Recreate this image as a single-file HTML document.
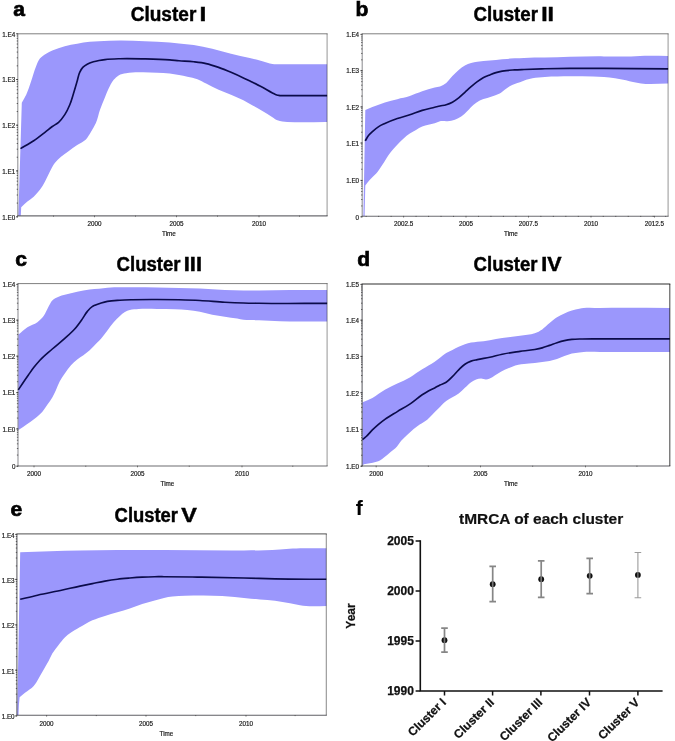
<!DOCTYPE html>
<html lang="en">
<head>
<meta charset="utf-8">
<title>Bayesian skyline plots and tMRCA of each cluster</title>
<style>
html,body{margin:0;padding:0;background:#fff;}
body{width:675px;height:741px;overflow:hidden;}
svg{display:block;filter:blur(0.35px);}
text{font-family:"Liberation Sans",sans-serif;}
.t6{font-size:6.3px;fill:#1a1a1a;stroke:#1a1a1a;stroke-width:0.18px;}
.ttl{font-size:20px;font-weight:bold;fill:#000;stroke:#000;stroke-width:0.45px;}
.ltr{font-size:21px;font-weight:bold;fill:#000;stroke:#000;stroke-width:0.7px;}
.lf{stroke-width:0.1px;}
.fb{font-size:12px;font-weight:bold;fill:#111;stroke:#111;stroke-width:0.25px;}
.ft{font-size:15.2px;font-weight:bold;fill:#111;stroke:#111;stroke-width:0.2px;}
</style>
</head>
<body>
<svg width="675" height="741" viewBox="0 0 675 741">
<rect x="0" y="0" width="675" height="741" fill="#ffffff"/>

<g id="panel-a">
<g transform="translate(0.00,0.00)">
<path d="M21.80,102.80 C23.27,100.10 24.89,97.47 26.20,94.70 C28.27,90.31 29.59,85.59 31.20,81.00 C32.93,76.06 34.11,70.89 36.20,66.10 C37.31,63.55 38.18,60.70 39.90,58.60 C41.53,56.61 43.88,55.09 46.10,53.70 C48.05,52.48 50.19,51.54 52.30,50.60 C56.33,48.80 60.55,47.36 64.80,46.20 C68.86,45.09 73.05,44.43 77.20,43.70 C81.35,42.97 85.51,42.22 89.70,41.80 C92.79,41.49 95.90,41.37 99.00,41.20 C105.96,40.83 112.93,40.63 119.90,40.60 C128.20,40.56 136.50,40.88 144.80,41.20 C153.10,41.52 161.42,41.80 169.70,42.50 C172.80,42.76 175.90,43.09 179.00,43.40 C183.90,43.90 188.83,44.28 193.70,45.00 C199.95,45.92 206.15,47.27 212.30,48.70 C218.58,50.16 224.74,52.14 231.00,53.70 C237.21,55.24 243.49,56.49 249.70,58.00 C253.94,59.03 258.18,60.09 262.40,61.20 C265.74,62.08 268.99,63.46 272.40,63.90 C273.62,64.06 274.87,64.10 276.10,64.20 C293.10,64.20 310.10,64.20 327.10,64.20 L327.10,122.10 C313.83,122.03 300.53,122.87 287.30,121.90 C285.67,121.78 284.01,121.76 282.40,121.50 C280.71,121.23 278.97,120.93 277.40,120.30 C275.61,119.57 274.07,118.23 272.40,117.20 C269.07,115.13 265.78,112.99 262.40,111.00 C259.04,109.02 255.59,107.21 252.20,105.30 C249.26,103.64 246.39,101.85 243.40,100.30 C239.38,98.22 235.18,96.47 231.00,94.70 C226.91,92.97 222.65,91.61 218.60,89.80 C214.34,87.90 210.28,85.58 206.10,83.50 C203.20,82.06 200.42,80.32 197.40,79.20 C194.20,78.01 190.75,77.45 187.40,76.70 C184.61,76.08 181.81,75.50 179.00,75.00 C175.91,74.45 172.81,73.96 169.70,73.60 C165.55,73.12 161.37,72.92 157.20,72.70 C151.01,72.38 144.79,72.06 138.60,72.30 C134.43,72.46 130.18,72.48 126.10,73.30 C123.57,73.81 120.79,74.14 118.60,75.40 C116.75,76.47 115.10,78.14 113.70,79.80 C112.15,81.63 111.06,83.88 109.90,86.00 C107.96,89.57 106.58,93.44 105.00,97.20 C103.26,101.34 101.50,105.47 100.00,109.70 C98.45,114.07 97.78,118.78 95.90,123.00 C94.51,126.12 92.70,129.08 90.90,132.00 C89.34,134.53 87.95,137.33 85.90,139.40 C83.52,141.80 80.06,143.07 77.20,145.00 C74.25,147.00 71.38,149.10 68.50,151.20 C65.98,153.04 63.34,154.75 61.00,156.80 C58.79,158.74 56.59,160.79 54.80,163.10 C52.77,165.73 51.38,168.85 49.80,171.80 C48.06,175.04 46.69,178.49 44.90,181.70 C43.35,184.47 41.80,187.27 39.90,189.80 C38.05,192.26 35.97,194.62 33.70,196.70 C31.75,198.49 29.44,199.89 27.40,201.60 C25.27,203.39 23.27,205.33 21.20,207.20 C21.07,209.97 20.93,212.73 20.80,215.50 C20.00,215.50 19.20,215.50 18.40,215.50 Z" fill="#9b97fc" stroke="none"/>
<path d="M20.50,148.60 C24.90,145.97 29.46,143.56 33.70,140.70 C37.99,137.80 41.99,134.46 46.10,131.30 C48.17,129.71 50.18,128.02 52.30,126.50 C54.35,125.03 56.72,123.95 58.60,122.30 C61.05,120.15 63.01,117.34 64.80,114.60 C66.81,111.52 68.38,108.10 69.80,104.70 C71.31,101.08 72.32,97.25 73.50,93.50 C74.80,89.35 75.99,85.17 77.20,81.00 C78.04,78.10 78.39,74.99 79.70,72.30 C80.54,70.58 81.49,68.78 82.80,67.40 C84.03,66.11 85.63,65.08 87.20,64.20 C89.12,63.12 91.28,62.44 93.40,61.80 C95.23,61.25 97.12,60.86 99.00,60.50 C100.98,60.12 102.99,59.85 105.00,59.60 C109.93,58.99 114.93,58.87 119.90,58.70 C128.19,58.41 136.50,58.70 144.80,58.90 C153.10,59.10 161.42,59.29 169.70,59.90 C172.80,60.13 175.90,60.45 179.00,60.70 C183.90,61.10 188.82,61.25 193.70,61.80 C197.85,62.27 202.03,62.70 206.10,63.60 C210.34,64.54 214.49,65.97 218.60,67.40 C222.79,68.86 226.91,70.57 231.00,72.30 C235.18,74.07 239.30,75.96 243.40,77.90 C245.61,78.95 247.80,80.02 250.00,81.10 C254.15,83.13 258.32,85.13 262.40,87.30 C265.77,89.10 268.99,91.19 272.40,92.90 C273.85,93.63 275.26,94.54 276.80,95.00 C277.80,95.30 278.87,95.40 279.90,95.60 C295.63,95.60 311.37,95.60 327.10,95.60" fill="none" stroke="#0b0b4a" stroke-width="1.65" stroke-linejoin="round"/>
</g>
<path d="M17.30,33.80 H327.60" fill="none" stroke="#000" stroke-opacity="0.50" stroke-width="1.00"/>
<path d="M327.10,33.80 V215.90" fill="none" stroke="#000" stroke-opacity="0.38" stroke-width="1.1"/>
<path d="M17.80,33.80 V215.90" fill="none" stroke="#101018" stroke-opacity="0.45" stroke-width="1.1"/>
<path d="M17.30,215.90 H327.60" fill="none" stroke="#101018" stroke-opacity="0.62" stroke-width="1.1"/>
<path d="M18.00,79.60 h-1.3 M18.00,65.84 h-1.3 M18.00,57.80 h-1.3 M18.00,52.09 h-1.3 M18.00,47.66 h-1.3 M18.00,44.04 h-1.3 M18.00,40.98 h-1.3 M18.00,38.33 h-1.3 M18.00,35.99 h-1.3 M18.00,125.30 h-1.3 M18.00,111.54 h-1.3 M18.00,103.50 h-1.3 M18.00,97.79 h-1.3 M18.00,93.36 h-1.3 M18.00,89.74 h-1.3 M18.00,86.68 h-1.3 M18.00,84.03 h-1.3 M18.00,81.69 h-1.3 M18.00,171.00 h-1.3 M18.00,157.24 h-1.3 M18.00,149.20 h-1.3 M18.00,143.49 h-1.3 M18.00,139.06 h-1.3 M18.00,135.44 h-1.3 M18.00,132.38 h-1.3 M18.00,129.73 h-1.3 M18.00,127.39 h-1.3 M18.00,216.90 h-1.3 M18.00,203.08 h-1.3 M18.00,195.00 h-1.3 M18.00,189.27 h-1.3 M18.00,184.82 h-1.3 M18.00,181.18 h-1.3 M18.00,178.11 h-1.3 M18.00,175.45 h-1.3 M18.00,173.10 h-1.3" stroke="#333" stroke-width="0.7" fill="none"/>
<path d="M18.00,33.80 h-2.0 M18.00,79.50 h-2.0 M18.00,125.20 h-2.0 M18.00,170.90 h-2.0 M18.00,216.80 h-2.0" stroke="#333" stroke-width="0.8" fill="none"/>
<path d="M94.50,215.60 v1.6 M176.50,215.60 v1.6 M259.00,215.60 v1.6 M53.50,215.60 v1.1 M135.50,215.60 v1.1 M217.50,215.60 v1.1 M299.50,215.60 v1.1" stroke="#444" stroke-width="0.7" fill="none"/>
<text class="t6" x="15.20" y="36.60" text-anchor="end">1.E4</text>
<text class="t6" x="15.20" y="82.30" text-anchor="end">1.E3</text>
<text class="t6" x="15.20" y="128.00" text-anchor="end">1.E2</text>
<text class="t6" x="15.20" y="173.70" text-anchor="end">1.E1</text>
<text class="t6" x="15.20" y="219.60" text-anchor="end">1.E0</text>
<text class="t6" x="94.50" y="226.00" text-anchor="middle">2000</text>
<text class="t6" x="176.50" y="226.00" text-anchor="middle">2005</text>
<text class="t6" x="259.00" y="226.00" text-anchor="middle">2010</text>
<text class="t6" x="169.00" y="236.00" text-anchor="middle">Time</text>
</g>
<g id="panel-b">
<g transform="translate(0.00,0.00)">
<path d="M365.30,110.00 C367.67,109.03 370.02,108.04 372.40,107.10 C376.54,105.46 380.66,103.73 384.90,102.40 C388.97,101.12 393.16,100.25 397.30,99.20 C401.46,98.15 405.76,97.51 409.80,96.10 C411.90,95.37 413.93,94.42 416.00,93.60 C418.06,92.79 420.12,91.95 422.20,91.20 C426.30,89.73 430.44,88.29 434.70,87.40 C436.45,87.04 438.32,87.05 440.00,86.50 C442.22,85.77 444.34,84.43 446.20,83.00 C448.62,81.14 450.26,78.33 452.40,76.10 C454.44,73.97 456.44,71.77 458.70,69.90 C460.65,68.29 462.68,66.69 464.90,65.50 C466.85,64.45 468.97,63.62 471.10,63.00 C473.11,62.41 475.22,62.13 477.30,61.80 C481.43,61.14 485.64,61.02 489.80,60.60 C493.94,60.18 498.06,59.68 502.20,59.30 C506.36,58.92 510.53,58.55 514.70,58.30 C517.80,58.12 520.90,58.01 524.00,57.90 C530.96,57.66 537.93,57.76 544.90,57.60 C553.20,57.41 561.50,57.00 569.80,56.80 C581.20,56.53 592.60,56.28 604.00,56.40 C607.67,56.44 611.33,56.58 615.00,56.60 C620.33,56.63 625.67,56.58 631.00,56.40 C634.00,56.30 637.00,56.10 640.00,56.00 C649.36,55.69 658.73,56.00 668.10,56.00 L668.10,83.60 C659.07,83.57 649.91,84.79 641.00,83.50 C638.32,83.11 635.65,82.59 633.00,82.00 C630.65,81.47 628.35,80.73 626.00,80.20 C622.37,79.37 618.69,78.73 615.00,78.20 C611.35,77.67 607.67,77.32 604.00,77.00 C592.65,76.01 581.20,76.21 569.80,76.30 C561.50,76.36 553.17,76.35 544.90,77.00 C540.73,77.33 536.50,77.50 532.40,78.30 C530.32,78.71 528.22,79.16 526.20,79.80 C524.08,80.48 522.10,81.55 520.00,82.30 C518.25,82.92 516.43,83.33 514.70,84.00 C512.99,84.66 511.29,85.40 509.70,86.30 C507.94,87.30 506.35,88.61 504.70,89.80 C503.02,91.01 501.51,92.53 499.70,93.50 C498.17,94.32 496.44,94.80 494.80,95.40 C492.33,96.31 489.80,97.07 487.30,97.90 C484.80,98.73 482.13,99.22 479.80,100.40 C477.58,101.52 475.53,103.10 473.60,104.70 C471.34,106.57 469.53,108.96 467.40,111.00 C465.39,112.92 463.50,115.08 461.20,116.60 C459.27,117.88 457.09,118.94 454.90,119.70 C452.54,120.52 449.99,120.95 447.50,121.20 C445.02,121.45 442.40,120.68 440.00,121.20 C438.18,121.60 436.51,122.72 434.70,123.30 C432.65,123.96 430.49,124.25 428.40,124.80 C426.32,125.35 424.19,125.80 422.20,126.60 C420.04,127.47 418.05,128.76 416.00,129.90 C413.91,131.06 411.78,132.17 409.80,133.50 C407.62,134.97 405.57,136.66 403.60,138.40 C401.38,140.36 399.35,142.55 397.30,144.70 C396.05,146.01 394.80,147.33 393.60,148.70 C391.85,150.70 390.16,152.76 388.60,154.90 C386.31,158.04 384.56,161.56 382.40,164.80 C380.41,167.79 378.54,170.90 376.20,173.60 C374.28,175.82 371.87,177.62 369.90,179.80 C368.28,181.59 366.83,183.53 365.30,185.40 C365.07,195.60 364.83,205.80 364.60,216.00 C364.20,216.00 363.80,216.00 363.40,216.00 Z" fill="#9b97fc" stroke="none"/>
<path d="M365.20,140.90 C366.37,139.03 367.32,136.99 368.70,135.30 C369.80,133.96 371.11,132.77 372.40,131.60 C374.38,129.79 376.44,128.02 378.70,126.60 C380.65,125.38 382.81,124.48 384.90,123.50 C388.94,121.62 393.10,119.96 397.30,118.50 C401.40,117.07 405.67,116.14 409.80,114.80 C413.97,113.44 418.00,111.66 422.20,110.40 C426.31,109.17 430.53,108.33 434.70,107.30 C436.47,106.87 438.23,106.41 440.00,106.00 C442.06,105.53 444.19,105.31 446.20,104.70 C448.33,104.06 450.44,103.23 452.40,102.20 C454.64,101.02 456.70,99.46 458.70,97.90 C460.89,96.19 462.83,94.17 464.90,92.30 C466.97,90.43 468.98,88.51 471.10,86.70 C473.12,84.98 475.15,83.25 477.30,81.70 C479.33,80.23 481.40,78.77 483.60,77.60 C485.58,76.54 487.71,75.74 489.80,74.90 C491.84,74.08 493.89,73.24 496.00,72.60 C498.03,71.98 500.12,71.50 502.20,71.10 C506.30,70.31 510.52,70.17 514.70,69.90 C517.80,69.70 520.90,69.62 524.00,69.50 C530.96,69.22 537.93,68.98 544.90,68.80 C553.20,68.59 561.50,68.48 569.80,68.40 C581.20,68.29 592.60,68.37 604.00,68.40 C625.37,68.46 646.73,68.73 668.10,68.90" fill="none" stroke="#0b0b4a" stroke-width="1.65" stroke-linejoin="round"/>
</g>
<path d="M361.70,33.80 H668.60" fill="none" stroke="#000" stroke-opacity="0.50" stroke-width="1.00"/>
<path d="M668.10,33.80 V216.20" fill="none" stroke="#000" stroke-opacity="0.38" stroke-width="1.1"/>
<path d="M362.20,33.80 V216.20" fill="none" stroke="#101018" stroke-opacity="0.45" stroke-width="1.1"/>
<path d="M361.70,216.20 H668.60" fill="none" stroke="#101018" stroke-opacity="0.62" stroke-width="1.1"/>
<path d="M362.40,70.75 h-1.3 M362.40,59.84 h-1.3 M362.40,53.45 h-1.3 M362.40,48.93 h-1.3 M362.40,45.41 h-1.3 M362.40,42.54 h-1.3 M362.40,40.12 h-1.3 M362.40,38.01 h-1.3 M362.40,36.16 h-1.3 M362.40,107.00 h-1.3 M362.40,96.09 h-1.3 M362.40,89.70 h-1.3 M362.40,85.18 h-1.3 M362.40,81.66 h-1.3 M362.40,78.79 h-1.3 M362.40,76.37 h-1.3 M362.40,74.26 h-1.3 M362.40,72.41 h-1.3 M362.40,143.10 h-1.3 M362.40,132.23 h-1.3 M362.40,125.88 h-1.3 M362.40,121.37 h-1.3 M362.40,117.87 h-1.3 M362.40,115.01 h-1.3 M362.40,112.59 h-1.3 M362.40,110.50 h-1.3 M362.40,108.65 h-1.3 M362.40,180.50 h-1.3 M362.40,169.24 h-1.3 M362.40,162.66 h-1.3 M362.40,157.98 h-1.3 M362.40,154.36 h-1.3 M362.40,151.40 h-1.3 M362.40,148.89 h-1.3 M362.40,146.72 h-1.3 M362.40,144.81 h-1.3 M362.40,216.90 h-1.3 M362.40,205.94 h-1.3 M362.40,199.53 h-1.3 M362.40,194.99 h-1.3 M362.40,191.46 h-1.3 M362.40,188.58 h-1.3 M362.40,186.14 h-1.3 M362.40,184.03 h-1.3 M362.40,182.17 h-1.3" stroke="#333" stroke-width="0.7" fill="none"/>
<path d="M362.40,34.40 h-2.0 M362.40,70.65 h-2.0 M362.40,106.90 h-2.0 M362.40,143.00 h-2.0 M362.40,180.40 h-2.0 M362.40,216.80 h-2.0" stroke="#333" stroke-width="0.8" fill="none"/>
<path d="M403.60,215.90 v1.6 M466.00,215.90 v1.6 M528.50,215.90 v1.6 M591.00,215.90 v1.6 M654.50,215.90 v1.6 M366.16,215.90 v1.1 M378.64,215.90 v1.1 M391.12,215.90 v1.1 M416.08,215.90 v1.1 M428.56,215.90 v1.1 M441.04,215.90 v1.1 M453.52,215.90 v1.1 M478.48,215.90 v1.1 M490.96,215.90 v1.1 M503.44,215.90 v1.1 M515.92,215.90 v1.1 M540.88,215.90 v1.1 M553.36,215.90 v1.1 M565.84,215.90 v1.1 M578.32,215.90 v1.1 M603.28,215.90 v1.1 M615.76,215.90 v1.1 M628.24,215.90 v1.1 M640.72,215.90 v1.1 M653.20,215.90 v1.1 M665.68,215.90 v1.1" stroke="#444" stroke-width="0.7" fill="none"/>
<text class="t6" x="359.10" y="37.20" text-anchor="end">1.E4</text>
<text class="t6" x="359.10" y="73.45" text-anchor="end">1.E3</text>
<text class="t6" x="359.10" y="109.70" text-anchor="end">1.E2</text>
<text class="t6" x="359.10" y="145.80" text-anchor="end">1.E1</text>
<text class="t6" x="359.10" y="183.20" text-anchor="end">1.E0</text>
<text class="t6" x="359.10" y="219.60" text-anchor="end">0</text>
<text class="t6" x="403.60" y="226.20" text-anchor="middle">2002.5</text>
<text class="t6" x="466.00" y="226.20" text-anchor="middle">2005</text>
<text class="t6" x="528.50" y="226.20" text-anchor="middle">2007.5</text>
<text class="t6" x="591.00" y="226.20" text-anchor="middle">2010</text>
<text class="t6" x="654.50" y="226.20" text-anchor="middle">2012.5</text>
<text class="t6" x="511.00" y="235.80" text-anchor="middle">Time</text>
</g>
<g id="panel-c">
<g transform="translate(0.00,0.00)">
<path d="M18.50,334.60 C21.47,332.13 24.19,329.29 27.40,327.20 C30.50,325.18 34.46,324.41 37.40,322.20 C39.71,320.47 41.85,318.30 43.60,316.00 C45.73,313.21 46.84,309.68 48.60,306.60 C49.79,304.51 50.65,302.05 52.30,300.40 C53.97,298.74 56.38,297.66 58.60,296.70 C60.57,295.85 62.72,295.40 64.80,294.80 C68.89,293.62 73.04,292.59 77.20,291.70 C81.34,290.82 85.50,289.99 89.70,289.50 C92.78,289.14 95.91,289.12 99.00,288.80 C101.81,288.51 104.59,287.99 107.40,287.70 C115.65,286.85 124.00,287.23 132.30,287.20 C140.60,287.17 148.90,287.35 157.20,287.50 C164.47,287.63 171.73,287.83 179.00,288.00 C185.97,288.16 192.94,288.22 199.90,288.50 C208.21,288.84 216.49,289.66 224.80,290.00 C231.00,290.25 237.20,290.42 243.40,290.50 C248.60,290.56 253.80,290.53 259.00,290.50 C269.33,290.44 279.67,290.10 290.00,290.00 C302.37,289.88 314.73,289.93 327.10,289.90 L327.10,321.40 C311.40,321.33 295.69,321.69 280.00,321.20 C273.00,320.98 266.00,320.50 259.00,320.30 C255.90,320.21 252.80,320.21 249.70,320.10 C247.60,320.02 245.48,320.05 243.40,319.80 C241.32,319.55 239.27,318.97 237.20,318.60 C233.09,317.86 228.93,317.33 224.80,316.70 C220.63,316.06 216.43,315.63 212.30,314.80 C208.13,313.96 204.08,312.52 199.90,311.70 C195.77,310.89 191.58,310.32 187.40,309.90 C183.28,309.49 179.14,309.37 175.00,309.20 C169.07,308.96 163.13,308.94 157.20,308.90 C151.00,308.86 144.77,308.47 138.60,309.00 C135.66,309.25 132.61,309.26 129.80,310.10 C128.12,310.60 126.42,311.24 124.90,312.10 C123.06,313.14 121.50,314.69 119.90,316.10 C117.71,318.03 115.64,320.12 113.70,322.30 C111.43,324.85 109.49,327.69 107.40,330.40 C105.32,333.09 103.46,335.97 101.20,338.50 C99.87,339.99 98.40,341.37 97.00,342.80 C94.57,345.27 92.29,347.91 89.70,350.20 C87.69,351.97 85.55,353.60 83.40,355.20 C81.38,356.70 79.16,357.93 77.20,359.50 C75.00,361.26 72.90,363.22 71.00,365.30 C68.69,367.82 66.76,370.69 64.80,373.50 C63.05,376.01 61.25,378.52 59.80,381.20 C58.30,383.97 57.34,387.03 56.00,389.90 C54.82,392.43 53.69,394.99 52.30,397.40 C50.81,399.97 49.00,402.35 47.30,404.80 C45.69,407.12 44.24,409.58 42.40,411.70 C40.20,414.23 37.52,416.38 34.90,418.50 C32.13,420.73 29.10,422.64 26.20,424.70 C24.13,426.17 22.04,427.59 20.00,429.10 C19.46,429.50 18.93,429.90 18.40,430.30 Z" fill="#9b97fc" stroke="none"/>
<path d="M18.30,389.90 C19.67,387.83 21.02,385.76 22.40,383.70 C24.37,380.78 26.37,377.88 28.40,375.00 C30.15,372.52 31.85,370.00 33.70,367.60 C35.67,365.06 37.72,362.55 39.90,360.20 C43.68,356.13 48.11,352.67 52.30,349.00 C56.41,345.40 60.75,342.06 64.80,338.40 C68.18,335.35 71.69,332.39 74.70,329.00 C77.44,325.91 79.82,322.48 82.20,319.10 C83.93,316.64 85.28,313.89 87.20,311.60 C88.71,309.80 90.23,307.84 92.20,306.60 C93.07,306.05 94.05,305.63 95.00,305.20 C97.00,304.30 99.10,303.64 101.20,303.00 C103.24,302.38 105.31,301.82 107.40,301.40 C111.49,300.57 115.73,300.48 119.90,300.20 C124.03,299.92 128.17,299.82 132.30,299.70 C140.60,299.45 148.90,299.47 157.20,299.50 C164.47,299.53 171.74,299.63 179.00,299.80 C185.97,299.97 192.94,300.16 199.90,300.50 C208.21,300.91 216.49,301.75 224.80,302.20 C231.00,302.53 237.20,302.81 243.40,303.00 C248.60,303.16 253.80,303.22 259.00,303.30 C281.70,303.66 304.40,303.37 327.10,303.40" fill="none" stroke="#0b0b4a" stroke-width="1.65" stroke-linejoin="round"/>
</g>
<path d="M17.50,283.60 H327.60" fill="none" stroke="#000" stroke-opacity="0.50" stroke-width="1.00"/>
<path d="M327.10,283.60 V466.00" fill="none" stroke="#000" stroke-opacity="0.38" stroke-width="1.1"/>
<path d="M18.00,283.60 V466.00" fill="none" stroke="#101018" stroke-opacity="0.45" stroke-width="1.1"/>
<path d="M17.50,466.00 H327.60" fill="none" stroke="#101018" stroke-opacity="0.62" stroke-width="1.1"/>
<path d="M18.20,320.25 h-1.3 M18.20,309.49 h-1.3 M18.20,303.19 h-1.3 M18.20,298.73 h-1.3 M18.20,295.26 h-1.3 M18.20,292.43 h-1.3 M18.20,290.04 h-1.3 M18.20,287.96 h-1.3 M18.20,286.14 h-1.3 M18.20,356.25 h-1.3 M18.20,345.41 h-1.3 M18.20,339.07 h-1.3 M18.20,334.58 h-1.3 M18.20,331.09 h-1.3 M18.20,328.24 h-1.3 M18.20,325.83 h-1.3 M18.20,323.74 h-1.3 M18.20,321.90 h-1.3 M18.20,392.70 h-1.3 M18.20,381.73 h-1.3 M18.20,375.31 h-1.3 M18.20,370.75 h-1.3 M18.20,367.22 h-1.3 M18.20,364.34 h-1.3 M18.20,361.90 h-1.3 M18.20,359.78 h-1.3 M18.20,357.92 h-1.3 M18.20,429.00 h-1.3 M18.20,418.07 h-1.3 M18.20,411.68 h-1.3 M18.20,407.15 h-1.3 M18.20,403.63 h-1.3 M18.20,400.75 h-1.3 M18.20,398.32 h-1.3 M18.20,396.22 h-1.3 M18.20,394.36 h-1.3 M18.20,466.30 h-1.3 M18.20,455.07 h-1.3 M18.20,448.50 h-1.3 M18.20,443.84 h-1.3 M18.20,440.23 h-1.3 M18.20,437.27 h-1.3 M18.20,434.78 h-1.3 M18.20,432.61 h-1.3 M18.20,430.71 h-1.3" stroke="#333" stroke-width="0.7" fill="none"/>
<path d="M18.20,284.40 h-2.0 M18.20,320.15 h-2.0 M18.20,356.15 h-2.0 M18.20,392.60 h-2.0 M18.20,428.90 h-2.0 M18.20,466.20 h-2.0" stroke="#333" stroke-width="0.8" fill="none"/>
<path d="M34.00,465.70 v1.6 M137.50,465.70 v1.6 M242.00,465.70 v1.6 M85.75,465.70 v1.1 M189.25,465.70 v1.1 M292.75,465.70 v1.1" stroke="#444" stroke-width="0.7" fill="none"/>
<text class="t6" x="15.40" y="287.20" text-anchor="end">1.E4</text>
<text class="t6" x="15.40" y="322.95" text-anchor="end">1.E3</text>
<text class="t6" x="15.40" y="358.95" text-anchor="end">1.E2</text>
<text class="t6" x="15.40" y="395.40" text-anchor="end">1.E1</text>
<text class="t6" x="15.40" y="431.70" text-anchor="end">1.E0</text>
<text class="t6" x="15.40" y="469.00" text-anchor="end">0</text>
<text class="t6" x="34.00" y="475.80" text-anchor="middle">2000</text>
<text class="t6" x="137.50" y="475.80" text-anchor="middle">2005</text>
<text class="t6" x="242.00" y="475.80" text-anchor="middle">2010</text>
<text class="t6" x="167.50" y="485.80" text-anchor="middle">Time</text>
</g>
<g id="panel-d">
<g transform="translate(0.00,0.00)">
<path d="M362.60,402.30 C365.87,400.83 369.24,399.57 372.40,397.90 C376.78,395.59 380.59,392.25 384.90,389.80 C388.91,387.52 393.16,385.66 397.30,383.60 C401.46,381.53 405.77,379.70 409.80,377.40 C414.08,374.96 418.02,371.92 422.20,369.30 C426.32,366.72 430.73,364.59 434.70,361.80 C436.51,360.53 438.24,359.14 440.00,357.80 C442.08,356.21 443.99,354.37 446.20,353.00 C448.15,351.79 450.33,350.93 452.40,349.90 C454.50,348.86 456.56,347.75 458.70,346.80 C460.73,345.89 462.79,345.01 464.90,344.30 C466.93,343.62 469.01,343.06 471.10,342.60 C475.19,341.71 479.46,341.82 483.60,341.20 C487.76,340.58 491.85,339.57 496.00,338.90 C500.12,338.24 504.26,337.75 508.40,337.20 C512.26,336.69 516.14,336.21 520.00,335.70 C522.47,335.37 524.95,335.11 527.40,334.70 C529.88,334.28 532.44,334.01 534.80,333.20 C537.40,332.31 539.90,330.91 542.20,329.40 C544.89,327.63 547.10,325.16 549.60,323.10 C552.03,321.09 554.34,318.87 557.00,317.20 C559.32,315.74 561.88,314.61 564.40,313.50 C566.85,312.42 569.35,311.40 571.90,310.60 C574.32,309.85 576.81,309.31 579.30,308.80 C580.76,308.50 582.23,308.21 583.70,308.00 C589.06,307.23 594.57,307.93 600.00,307.90 C623.27,307.78 646.53,307.90 669.80,307.90 L669.80,352.00 C646.53,352.00 623.27,352.00 600.00,352.00 C594.57,352.00 589.11,351.52 583.70,352.00 C582.23,352.13 580.77,352.32 579.30,352.50 C576.83,352.80 574.32,352.95 571.90,353.50 C569.34,354.09 566.87,355.09 564.40,356.00 C561.90,356.92 559.52,358.17 557.00,359.00 C554.59,359.79 552.09,360.40 549.60,360.90 C547.16,361.39 544.67,361.63 542.20,362.00 C539.73,362.37 537.28,362.82 534.80,363.10 C532.84,363.32 530.86,363.41 528.90,363.60 C527.27,363.75 525.63,363.92 524.00,364.10 C522.13,364.31 520.24,364.42 518.40,364.80 C516.29,365.24 514.24,365.98 512.20,366.70 C509.65,367.60 507.13,368.62 504.70,369.80 C502.12,371.06 499.66,372.60 497.20,374.10 C495.55,375.10 494.02,376.34 492.30,377.20 C490.31,378.20 488.15,379.43 486.00,379.50 C484.40,379.55 482.73,378.51 481.10,378.50 C479.43,378.49 477.69,378.94 476.10,379.50 C474.33,380.12 472.66,381.15 471.10,382.20 C468.80,383.74 466.97,385.93 464.90,387.80 C462.83,389.67 460.94,391.76 458.70,393.40 C456.73,394.84 454.50,395.94 452.40,397.20 C450.34,398.44 448.11,399.45 446.20,400.90 C444.70,402.04 443.35,403.38 442.00,404.70 C440.75,405.92 439.61,407.25 438.40,408.50 C436.37,410.60 434.27,412.63 432.20,414.70 C430.53,416.37 429.00,418.20 427.20,419.70 C424.92,421.60 422.15,422.90 419.70,424.60 C418.11,425.70 416.52,426.81 415.00,428.00 C414.08,428.71 413.18,429.45 412.30,430.20 C410.22,431.97 408.28,433.91 406.30,435.80 C404.58,437.45 402.76,439.01 401.20,440.80 C399.59,442.64 398.46,444.91 396.80,446.70 C394.97,448.68 392.67,450.24 390.60,452.00 C388.51,453.77 386.49,455.65 384.30,457.30 C382.87,458.38 381.47,459.57 379.90,460.40 C377.73,461.55 375.21,462.09 372.80,462.70 C369.89,463.43 366.87,463.70 363.90,464.20 C363.43,464.63 362.97,465.07 362.50,465.50 Z" fill="#9b97fc" stroke="none"/>
<path d="M362.50,439.60 C363.73,438.57 365.01,437.58 366.20,436.50 C368.43,434.47 370.25,432.02 372.40,429.90 C374.36,427.96 376.40,426.08 378.50,424.30 C380.56,422.55 382.71,420.88 384.90,419.30 C388.84,416.46 393.15,414.13 397.30,411.60 C401.45,409.07 405.77,406.80 409.80,404.10 C414.09,401.23 417.88,397.63 422.20,394.80 C424.23,393.47 426.28,392.17 428.40,391.00 C430.45,389.87 432.63,388.98 434.70,387.90 C436.49,386.97 438.20,385.90 440.00,385.00 C442.03,383.98 444.31,383.40 446.20,382.20 C448.53,380.73 450.42,378.55 452.40,376.60 C454.60,374.44 456.50,371.96 458.70,369.80 C460.68,367.85 462.60,365.73 464.90,364.20 C466.81,362.93 468.94,361.88 471.10,361.10 C473.09,360.38 475.23,360.06 477.30,359.60 C481.43,358.68 485.66,358.20 489.80,357.30 C493.96,356.40 498.03,355.07 502.20,354.20 C506.33,353.34 510.52,352.70 514.70,352.10 C516.46,351.85 518.23,351.63 520.00,351.40 C524.93,350.75 529.91,350.41 534.80,349.50 C537.28,349.04 539.77,348.57 542.20,347.90 C544.71,347.21 547.14,346.26 549.60,345.40 C552.08,344.53 554.50,343.51 557.00,342.70 C559.44,341.91 561.90,341.15 564.40,340.60 C566.87,340.06 569.39,339.67 571.90,339.40 C575.31,339.03 578.77,339.09 582.20,339.00 C588.13,338.84 594.07,338.93 600.00,338.90 C623.27,338.80 646.53,338.90 669.80,338.90" fill="none" stroke="#0b0b4a" stroke-width="1.65" stroke-linejoin="round"/>
</g>
<path d="M361.60,284.00 H670.30" fill="none" stroke="#000" stroke-opacity="0.55" stroke-width="1.30"/>
<path d="M669.80,284.00 V466.00" fill="none" stroke="#000" stroke-opacity="0.68" stroke-width="1.1"/>
<path d="M362.10,284.00 V466.00" fill="none" stroke="#101018" stroke-opacity="0.65" stroke-width="1.1"/>
<path d="M361.60,466.00 H670.30" fill="none" stroke="#101018" stroke-opacity="0.67" stroke-width="1.1"/>
<path d="M362.30,320.25 h-1.3 M362.30,309.49 h-1.3 M362.30,303.19 h-1.3 M362.30,298.73 h-1.3 M362.30,295.26 h-1.3 M362.30,292.43 h-1.3 M362.30,290.04 h-1.3 M362.30,287.96 h-1.3 M362.30,286.14 h-1.3 M362.30,356.50 h-1.3 M362.30,345.59 h-1.3 M362.30,339.20 h-1.3 M362.30,334.68 h-1.3 M362.30,331.16 h-1.3 M362.30,328.29 h-1.3 M362.30,325.87 h-1.3 M362.30,323.76 h-1.3 M362.30,321.91 h-1.3 M362.30,392.80 h-1.3 M362.30,381.87 h-1.3 M362.30,375.48 h-1.3 M362.30,370.95 h-1.3 M362.30,367.43 h-1.3 M362.30,364.55 h-1.3 M362.30,362.12 h-1.3 M362.30,360.02 h-1.3 M362.30,358.16 h-1.3 M362.30,429.50 h-1.3 M362.30,418.45 h-1.3 M362.30,411.99 h-1.3 M362.30,407.40 h-1.3 M362.30,403.85 h-1.3 M362.30,400.94 h-1.3 M362.30,398.48 h-1.3 M362.30,396.36 h-1.3 M362.30,394.48 h-1.3 M362.30,466.30 h-1.3 M362.30,455.22 h-1.3 M362.30,448.74 h-1.3 M362.30,444.14 h-1.3 M362.30,440.58 h-1.3 M362.30,437.66 h-1.3 M362.30,435.20 h-1.3 M362.30,433.07 h-1.3 M362.30,431.18 h-1.3" stroke="#333" stroke-width="0.7" fill="none"/>
<path d="M362.30,284.40 h-2.0 M362.30,320.15 h-2.0 M362.30,356.40 h-2.0 M362.30,392.70 h-2.0 M362.30,429.40 h-2.0 M362.30,466.20 h-2.0" stroke="#333" stroke-width="0.8" fill="none"/>
<path d="M376.20,465.70 v1.6 M480.50,465.70 v1.6 M585.50,465.70 v1.6 M428.35,465.70 v1.1 M532.65,465.70 v1.1 M636.95,465.70 v1.1" stroke="#444" stroke-width="0.7" fill="none"/>
<text class="t6" x="359.00" y="287.20" text-anchor="end">1.E5</text>
<text class="t6" x="359.00" y="322.95" text-anchor="end">1.E4</text>
<text class="t6" x="359.00" y="359.20" text-anchor="end">1.E3</text>
<text class="t6" x="359.00" y="395.50" text-anchor="end">1.E2</text>
<text class="t6" x="359.00" y="432.20" text-anchor="end">1.E1</text>
<text class="t6" x="359.00" y="469.00" text-anchor="end">1.E0</text>
<text class="t6" x="376.20" y="475.80" text-anchor="middle">2000</text>
<text class="t6" x="480.50" y="475.80" text-anchor="middle">2005</text>
<text class="t6" x="585.50" y="475.80" text-anchor="middle">2010</text>
<text class="t6" x="511.00" y="485.80" text-anchor="middle">Time</text>
</g>
<g id="panel-e">
<g transform="translate(0.00,0.00)">
<path d="M20.20,552.30 C30.13,551.93 40.06,551.48 50.00,551.20 C60.00,550.92 70.00,550.78 80.00,550.60 C92.43,550.37 104.87,550.11 117.30,550.00 C132.87,549.86 148.43,549.96 164.00,550.00 C190.67,550.06 217.34,550.77 244.00,550.50 C251.00,550.43 258.00,550.43 265.00,550.20 C270.00,550.03 275.00,549.80 280.00,549.50 C284.27,549.25 288.53,548.82 292.80,548.60 C295.20,548.48 297.60,548.38 300.00,548.30 C308.76,548.01 317.53,548.30 326.30,548.30 L326.30,606.00 C319.57,606.00 312.79,606.67 306.10,606.00 C304.06,605.80 302.03,605.51 300.00,605.20 C296.65,604.69 293.34,603.91 290.00,603.30 C285.01,602.39 280.03,601.35 275.00,600.70 C270.03,600.06 265.00,599.85 260.00,599.40 C254.66,598.92 249.33,598.41 244.00,597.90 C240.90,597.60 237.80,597.28 234.70,597.00 C230.54,596.63 226.37,596.25 222.20,596.00 C216.01,595.62 209.80,595.43 203.60,595.40 C197.37,595.37 191.13,595.51 184.90,595.80 C180.73,596.00 176.54,596.11 172.40,596.60 C169.59,596.93 166.77,597.32 164.00,597.90 C160.86,598.55 157.79,599.53 154.70,600.40 C150.52,601.57 146.33,602.76 142.20,604.10 C138.03,605.46 133.97,607.14 129.80,608.50 C125.67,609.84 121.47,610.96 117.30,612.20 C113.17,613.43 109.00,614.57 104.90,615.90 C100.70,617.26 96.43,618.50 92.40,620.30 C90.29,621.24 88.21,622.26 86.20,623.40 C84.77,624.21 83.42,625.16 82.00,626.00 C80.42,626.93 78.78,627.77 77.20,628.70 C75.11,629.92 72.99,631.12 71.00,632.50 C68.84,634.00 66.69,635.59 64.80,637.40 C62.47,639.63 60.59,642.34 58.60,644.90 C56.40,647.73 54.11,650.53 52.30,653.60 C50.89,655.99 49.90,658.64 48.60,661.10 C47.04,664.05 45.27,666.90 43.60,669.80 C41.93,672.70 40.35,675.65 38.60,678.50 C37.04,681.04 35.66,683.80 33.70,686.00 C31.29,688.72 27.87,690.50 25.00,692.80 C23.19,694.25 21.40,695.73 19.60,697.20 C19.37,699.80 19.13,702.40 18.90,705.00 C18.77,708.33 18.63,711.67 18.50,715.00 C18.07,715.00 17.63,715.00 17.20,715.00 Z" fill="#9b97fc" stroke="none"/>
<path d="M20.20,599.30 C25.97,597.93 31.72,596.50 37.50,595.20 C45.80,593.33 54.18,591.80 62.50,590.00 C68.34,588.73 74.15,587.33 80.00,586.10 C84.13,585.23 88.27,584.43 92.40,583.60 C96.57,582.76 100.72,581.84 104.90,581.10 C109.02,580.37 113.15,579.72 117.30,579.20 C121.45,578.68 125.63,578.35 129.80,578.00 C133.93,577.65 138.06,577.32 142.20,577.10 C146.36,576.88 150.53,576.76 154.70,576.70 C157.80,576.66 160.90,576.69 164.00,576.70 C175.10,576.73 186.20,576.93 197.30,577.10 C212.87,577.33 228.44,577.61 244.00,578.00 C254.33,578.26 264.67,578.68 275.00,578.90 C292.10,579.26 309.20,579.17 326.30,579.30" fill="none" stroke="#0b0b4a" stroke-width="1.65" stroke-linejoin="round"/>
</g>
<path d="M16.40,533.90 H326.80" fill="none" stroke="#000" stroke-opacity="0.55" stroke-width="1.30"/>
<path d="M326.30,533.90 V715.30" fill="none" stroke="#000" stroke-opacity="0.43" stroke-width="1.1"/>
<path d="M16.90,533.90 V715.30" fill="none" stroke="#101018" stroke-opacity="0.65" stroke-width="1.1"/>
<path d="M16.40,715.30 H326.80" fill="none" stroke="#101018" stroke-opacity="0.67" stroke-width="1.1"/>
<path d="M17.10,579.50 h-1.3 M17.10,565.95 h-1.3 M17.10,558.03 h-1.3 M17.10,552.41 h-1.3 M17.10,548.05 h-1.3 M17.10,544.48 h-1.3 M17.10,541.47 h-1.3 M17.10,538.86 h-1.3 M17.10,536.56 h-1.3 M17.10,625.00 h-1.3 M17.10,611.30 h-1.3 M17.10,603.29 h-1.3 M17.10,597.61 h-1.3 M17.10,593.20 h-1.3 M17.10,589.59 h-1.3 M17.10,586.55 h-1.3 M17.10,583.91 h-1.3 M17.10,581.58 h-1.3 M17.10,670.25 h-1.3 M17.10,656.63 h-1.3 M17.10,648.66 h-1.3 M17.10,643.01 h-1.3 M17.10,638.62 h-1.3 M17.10,635.04 h-1.3 M17.10,632.01 h-1.3 M17.10,629.39 h-1.3 M17.10,627.07 h-1.3 M17.10,716.00 h-1.3 M17.10,702.23 h-1.3 M17.10,694.17 h-1.3 M17.10,688.46 h-1.3 M17.10,684.02 h-1.3 M17.10,680.40 h-1.3 M17.10,677.34 h-1.3 M17.10,674.68 h-1.3 M17.10,672.34 h-1.3" stroke="#333" stroke-width="0.7" fill="none"/>
<path d="M17.10,534.40 h-2.0 M17.10,579.40 h-2.0 M17.10,624.90 h-2.0 M17.10,670.15 h-2.0 M17.10,715.90 h-2.0" stroke="#333" stroke-width="0.8" fill="none"/>
<path d="M46.60,715.00 v1.6 M146.00,715.00 v1.6 M246.00,715.00 v1.6 M96.30,715.00 v1.1 M195.70,715.00 v1.1 M295.10,715.00 v1.1" stroke="#444" stroke-width="0.7" fill="none"/>
<text class="t6" x="14.60" y="537.90" text-anchor="end">1.E4</text>
<text class="t6" x="14.60" y="582.90" text-anchor="end">1.E3</text>
<text class="t6" x="14.60" y="628.40" text-anchor="end">1.E2</text>
<text class="t6" x="14.60" y="673.65" text-anchor="end">1.E1</text>
<text class="t6" x="14.60" y="719.40" text-anchor="end">1.E0</text>
<text class="t6" x="46.60" y="725.80" text-anchor="middle">2000</text>
<text class="t6" x="146.00" y="725.80" text-anchor="middle">2005</text>
<text class="t6" x="246.00" y="725.80" text-anchor="middle">2010</text>
<text class="t6" x="166.50" y="736.20" text-anchor="middle">Time</text>
</g>
<text class="ttl" y="20.7"><tspan x="130.7" textLength="65.6" lengthAdjust="spacingAndGlyphs">Cluster</tspan> <tspan x="199.5" textLength="6.8" lengthAdjust="spacingAndGlyphs">I</tspan></text>
<text class="ttl" y="20.7"><tspan x="473.6" textLength="64.4" lengthAdjust="spacingAndGlyphs">Cluster</tspan> <tspan x="541.2" textLength="12.8" lengthAdjust="spacingAndGlyphs">II</tspan></text>
<text class="ttl" y="271.2"><tspan x="116.6" textLength="63.9" lengthAdjust="spacingAndGlyphs">Cluster</tspan> <tspan x="183.8" textLength="18.2" lengthAdjust="spacingAndGlyphs">III</tspan></text>
<text class="ttl" y="271.2"><tspan x="473.6" textLength="64.0" lengthAdjust="spacingAndGlyphs">Cluster</tspan> <tspan x="541.2" textLength="20.3" lengthAdjust="spacingAndGlyphs">IV</tspan></text>
<text class="ttl" y="521.6"><tspan x="114.6" textLength="63.4" lengthAdjust="spacingAndGlyphs">Cluster</tspan> <tspan x="181.3" textLength="15.6" lengthAdjust="spacingAndGlyphs">V</tspan></text>
<text class="ltr" x="13.2" y="16.0">a</text>
<text class="ltr" x="355.6" y="16.0">b</text>
<text class="ltr" x="15.3" y="265.6">c</text>
<text class="ltr" x="357.3" y="266.2">d</text>
<text class="ltr" x="10.6" y="516.0">e</text>
<text class="ltr lf" x="355.8" y="515.0">f</text>
<g id="panel-f">
<text class="ft" x="459" y="524.1" textLength="164.2" lengthAdjust="spacingAndGlyphs">tMRCA of each cluster</text>
<path d="M420.3,540.2 V691 H662.6" fill="none" stroke="#111" stroke-width="1.6"/>
<path d="M420.3,540.9 H415.6 M420.3,591.1 H415.6 M420.3,641.1 H415.6 M420.3,691.0 H415.6" stroke="#111" stroke-width="1.5" fill="none"/>
<path d="M444.5,691 V695.4 M492.6,691 V695.4 M540.9,691 V695.4 M589.5,691 V695.4 M637.9,691 V695.4" stroke="#111" stroke-width="1.5" fill="none"/>
<text class="fb" x="413.9" y="545.1" text-anchor="end">2005</text>
<text class="fb" x="413.9" y="595.3" text-anchor="end">2000</text>
<text class="fb" x="413.9" y="645.3" text-anchor="end">1995</text>
<text class="fb" x="413.9" y="695.2" text-anchor="end">1990</text>
<text class="fb" transform="translate(355.3,616) rotate(-90)" text-anchor="middle">Year</text>
<text class="fb" transform="translate(446.8,703.1) rotate(-45)" text-anchor="end">Cluster I</text>
<text class="fb" transform="translate(494.9,703.1) rotate(-45)" text-anchor="end">Cluster II</text>
<text class="fb" transform="translate(543.2,703.1) rotate(-45)" text-anchor="end">Cluster III</text>
<text class="fb" transform="translate(591.8,703.1) rotate(-45)" text-anchor="end">Cluster IV</text>
<text class="fb" transform="translate(640.2,703.1) rotate(-45)" text-anchor="end">Cluster V</text>
<circle cx="444.50" cy="640.20" r="2.9" fill="#101010"/>
<path d="M444.50,628.20 V652.20 M441.20,628.20 h6.6 M441.20,652.20 h6.6" stroke="#7d7d7d" stroke-width="1.7" fill="none" opacity="0.93"/>
<circle cx="492.70" cy="584.20" r="2.9" fill="#101010"/>
<path d="M492.70,566.40 V601.60 M489.40,566.40 h6.6 M489.40,601.60 h6.6" stroke="#7d7d7d" stroke-width="1.7" fill="none" opacity="0.93"/>
<circle cx="541.20" cy="579.20" r="2.9" fill="#101010"/>
<path d="M541.20,560.90 V597.30 M537.90,560.90 h6.6 M537.90,597.30 h6.6" stroke="#7d7d7d" stroke-width="1.7" fill="none" opacity="0.93"/>
<circle cx="589.70" cy="575.80" r="2.9" fill="#101010"/>
<path d="M589.70,558.40 V593.70 M586.40,558.40 h6.6 M586.40,593.70 h6.6" stroke="#7d7d7d" stroke-width="1.7" fill="none" opacity="0.93"/>
<circle cx="637.90" cy="574.90" r="2.9" fill="#101010"/>
<path d="M637.90,552.50 V597.70 M634.60,552.50 h6.6 M634.60,597.70 h6.6" stroke="#959595" stroke-width="1.1" fill="none" opacity="0.93"/>
</g>
</svg>
</body>
</html>
